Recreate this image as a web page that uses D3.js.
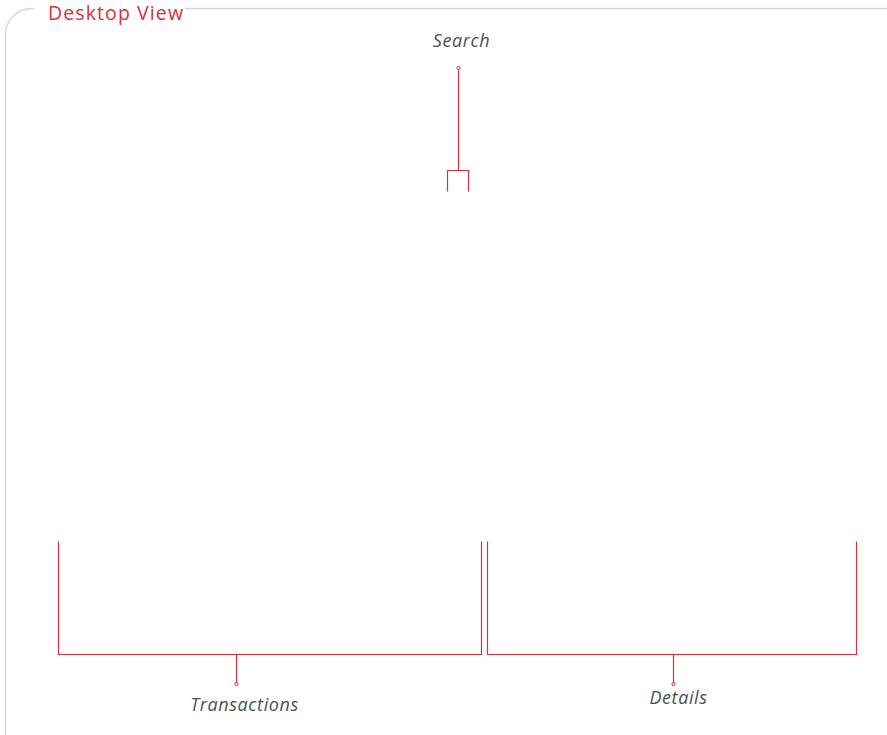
<!DOCTYPE html>
<html>
<head>
<meta charset="utf-8">
<script src="https://cdn.jsdelivr.net/npm/d3@7"></script>
<style>
  body { margin: 0; background: #fff; }
  svg { display: block; }
</style>
</head>
<body>
<svg width="887" height="735"></svg>
<script>
// regions of the desktop layout, in layout units (0..100 across, 0..100 down)
var regionNames = ["Search", "Transactions", "Details"];
var regionStart = [50.4, 6.54, 54.9];
var regionEnd   = [52.76, 54.23, 96.5];
var regionTop   = [23.13, 73.6, 73.6];
var regionEdge  = [25.99, 88.98, 88.98];
var tickAt      = [0.5, 0.42, 0.504];
var tickEnd     = [9.25, 93.06, 93.06];
var labelLine   = [6.4, 96.75, 95.8];
var labelSide   = ["top", "bottom", "bottom"];
var title = "Desktop View";

var loadVis = function() {
    var svg = d3.select("svg"),
        width = +svg.attr("width"),
        height = +svg.attr("height");

    var red = "#d9303a";
    var grey = "#4a5057";

    var x = d3.scaleLinear().domain([0, 100]).range([0, width]);
    var y = d3.scaleLinear().domain([0, 100]).range([0, height]);
    var px = function(v) { return Math.round(v) + 0.5; };

    // frame
    svg.append("rect")
        .attr("x", 5.5).attr("y", 8.5)
        .attr("width", width + 20).attr("height", height + 20)
        .attr("rx", 26).attr("ry", 26)
        .attr("fill", "none")
        .attr("stroke", "#cdd5de")
        .attr("stroke-width", 1.3);

    var t = svg.append("text")
        .attr("x", 48).attr("y", 19.5)
        .attr("font-family", "'Open Sans', sans-serif")
        .attr("font-size", 19.5)
        .attr("letter-spacing", 1.1)
        .attr("fill", red)
        .text(title);
    var bb = t.node().getBBox();
    svg.insert("rect", "text")
        .attr("x", bb.x - 14).attr("y", 0)
        .attr("width", bb.width + 15).attr("height", 16)
        .attr("fill", "#fff");

    var regions = regionNames.map(function(n, i) {
        return { name: n, x0: regionStart[i], x1: regionEnd[i], top: regionTop[i], at: tickAt[i],
                 edge: regionEdge[i], tick: tickEnd[i], label: labelLine[i], side: labelSide[i] };
    });
    var mid = function(d) { return px(x(d.x0) + (x(d.x1) - x(d.x0)) * d.at); };

    var g = svg.append("g").selectAll("g").data(regions).enter().append("g");

    // bracket: open towards the region, joined on the edge nearest the label
    g.append("path")
        .attr("fill", "none")
        .attr("stroke", red)
        .attr("stroke-width", 1.2)
        .attr("d", function(d) {
            var a = px(x(d.x0)), b = px(x(d.x1));
            var e = px(y(d.edge)), o = px(y(d.top));
            if (d.side === "top") { e = px(y(d.top)); o = px(y(d.edge)); }
            return "M" + a + "," + o + "V" + e + "H" + b + "V" + o;
        });

    g.append("line")
        .attr("stroke", red)
        .attr("stroke-width", 1.2)
        .attr("x1", mid)
        .attr("x2", mid)
        .attr("y1", function(d) { return px(y(d.side === "top" ? d.top : d.edge)); })
        .attr("y2", function(d) { return y(d.tick); });

    g.append("circle")
        .attr("cx", mid)
        .attr("cy", function(d) { return y(d.tick); })
        .attr("r", 1.6)
        .attr("fill", "#fff")
        .attr("stroke", red)
        .attr("stroke-width", 1);

    g.append("text")
        .attr("x", function(d) { return mid(d) + (d.name === "Transactions" ? 8 : d.name === "Details" ? 5 : 3); })
        .attr("y", function(d) { return y(d.label); })
        .attr("text-anchor", "middle")
        .attr("font-family", "'Open Sans', sans-serif")
        .attr("font-style", "italic")
        .attr("font-size", 18)
        .attr("letter-spacing", 0.6)
        .attr("fill", grey)
        .text(function(d) { return d.name; });
};

document.addEventListener('DOMContentLoaded', loadVis, false);
</script>
</body>
</html>
